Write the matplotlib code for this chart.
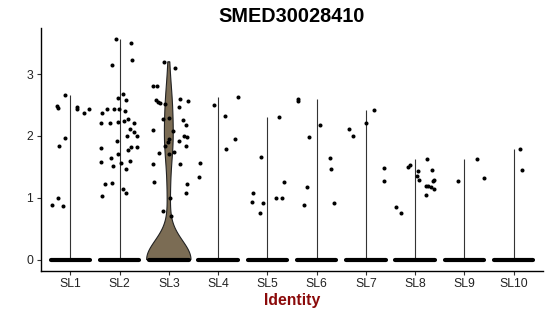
import numpy as np
import matplotlib
matplotlib.use("Agg")
import matplotlib.pyplot as plt

plt.rcParams['font.family'] = ['Liberation Sans', 'DejaVu Sans']

title = "SMED30028410"
xlabel = "Identity"
categories = ["SL1", "SL2", "SL3", "SL4", "SL5", "SL6", "SL7", "SL8", "SL9", "SL10"]
y_ticks = [0, 1, 2, 3]

# Non-zero expression values per cluster (all other cells are 0)
sl1_vals = [2.482, 2.457, 2.668, 2.470, 2.428, 2.373, 2.438, 1.964, 1.834, 0.992, 0.884, 0.863]
sl1_jit = [-0.268, -0.258, -0.116, 0.128, 0.128, 0.276, 0.381, -0.116, -0.237, -0.252, -0.373, -0.142]

sl2_vals = [3.562, 3.510, 3.226, 3.154, 2.673, 2.606, 2.587, 2.368, 2.438, 2.428, 2.430, 2.406,
            2.207, 2.203, 2.220, 2.244, 2.268, 2.215, 2.114, 2.066, 2.007, 1.996, 1.918, 1.805,
            1.823, 1.823, 1.769, 1.705, 1.640, 1.580, 1.564, 1.595, 1.510, 1.473, 1.222, 1.247,
            1.135, 1.077, 1.030]
sl2_jit = [-0.067, 0.223, 0.258, -0.148, 0.071, -0.041, 0.122, -0.365, -0.249, -0.116, -0.004, 0.108,
           -0.375, -0.203, -0.030, 0.087, 0.168, 0.294, 0.213, 0.284, 0.351, 0.156, -0.051, -0.385,
           0.223, 0.345, 0.168, -0.034, -0.168, -0.385, 0.020, 0.217, -0.128, 0.136, -0.290, -0.162,
           0.061, 0.136, -0.351]

sl3_vals = [3.199, 3.092, 2.810, 2.801, 2.579, 2.551, 2.535, 2.514, 2.600, 2.563, 2.470, 2.276,
            2.288, 2.255, 2.174, 2.093, 2.082, 2.007, 1.975, 1.943, 1.910, 1.920, 1.834, 1.839,
            1.721, 1.748, 1.705, 1.554, 1.543, 1.251, 1.230, 1.078, 0.997, 0.793, 0.701]
sl3_jit = [-0.093, 0.130, -0.331, -0.235, -0.256, -0.219, -0.178, -0.087, 0.217, 0.389, 0.197, -0.114,
           0.004, 0.292, 0.345, -0.316, 0.089, 0.304, 0.359, -0.006, -0.026, 0.197, -0.073, 0.345,
           -0.195, 0.110, -0.006, -0.331, 0.223, -0.296, 0.365, 0.339, 0.034, -0.114, 0.041]
sl3_zero_count = 80

sl4_vals = [2.498, 2.627, 2.315, 1.943, 1.797, 1.564, 1.337]
sl4_jit = [-0.079, 0.394, 0.136, 0.353, 0.156, -0.363, -0.391]

sl5_vals = [2.309, 1.656, 1.256, 1.085, 0.992, 0.992, 0.939, 0.916, 0.754]
sl5_jit = [0.231, -0.134, 0.341, -0.296, 0.178, 0.292, -0.302, -0.093, -0.140]

sl6_vals = [2.603, 2.571, 2.169, 1.980, 1.640, 1.473, 1.175, 0.916, 0.890]
sl6_jit = [-0.369, -0.369, 0.071, -0.152, 0.274, 0.286, -0.193, 0.355, -0.262]

sl7_vals = [2.422, 2.202, 2.109, 2.001, 1.489, 1.268]
sl7_jit = [0.174, 0.006, -0.339, -0.264, 0.357, 0.377]

sl8_vals = [0.852, 0.761, 1.506, 1.531, 1.635, 1.441, 1.451, 1.353, 1.284, 1.295, 1.268, 1.187,
            1.187, 1.170, 1.138, 1.046]
sl8_jit = [-0.389, -0.294, -0.138, -0.112, 0.233, 0.061, 0.349, 0.041, 0.081, 0.381, 0.369, 0.217,
           0.260, 0.314, 0.385, 0.227]

sl9_vals = [1.632, 1.324, 1.268]
sl9_jit = [0.262, 0.389, -0.124]

sl10_vals = [1.797, 1.457]
sl10_jit = [0.124, 0.162]

all_vals = [sl1_vals, sl2_vals, sl3_vals, sl4_vals, sl5_vals, sl6_vals, sl7_vals, sl8_vals, sl9_vals, sl10_vals]
all_jit = [sl1_jit, sl2_jit, sl3_jit, sl4_jit, sl5_jit, sl6_jit, sl7_jit, sl8_jit, sl9_jit, sl10_jit]

violin_color = "#7b6c54"
point_color = "black"
label_color = "#8b0a0a"

W, H = 550, 316
fig = plt.figure(figsize=(W / 100, H / 100), dpi=100)
ax = fig.add_axes([40.7 / W, 1 - 270.7 / H, 502.6 / W, 242.4 / H])

positions = np.arange(1, len(categories) + 1)
jitter_width = 0.4

for i, (vals, jit) in enumerate(zip(all_vals, all_jit)):
    pos = positions[i]
    vmax = max(vals)
    if i == 2:
        data = np.concatenate([np.zeros(sl3_zero_count), np.array(vals)])
        bw = 0.31
        grid = np.linspace(0, vmax, 400)
        dens = np.exp(-0.5 * ((grid[:, None] - data[None, :]) / bw) ** 2).sum(axis=1)
        hw = 0.45 * dens / dens.max()
        xs = np.concatenate([pos - hw, (pos + hw)[::-1]])
        ys = np.concatenate([grid, grid[::-1]])
        ax.fill(xs, ys, facecolor=violin_color, edgecolor="#222222", linewidth=0.8, zorder=2)
    else:
        ax.vlines(pos, 0, vmax, color="#333333", linewidth=0.8, zorder=2)
    # band of zero-valued cells
    ax.plot([pos - jitter_width, pos + jitter_width], [0, 0], color=point_color,
            linewidth=3.0, solid_capstyle="round", zorder=3)
    ax.scatter(pos + np.array(jit), vals, s=8.5, color=point_color, linewidths=0, zorder=4)

ax.set_xlim(0.4, 10.6)
ax.set_ylim(-0.178, 3.740)
ax.set_xticks(positions)
ax.set_xticklabels(categories)
ax.set_yticks(y_ticks)
ax.set_yticklabels([str(t) for t in y_ticks])

for side in ["top", "right"]:
    ax.spines[side].set_visible(False)
for side in ["left", "bottom"]:
    ax.spines[side].set_linewidth(1.0)
    ax.spines[side].set_color("black")

ax.tick_params(axis="both", length=2.7, width=0.8, color="#333333", labelsize=8.8,
               labelcolor="#222222")
ax.tick_params(axis="x", pad=2.4)
ax.tick_params(axis="y", pad=2.6)

ax.set_title(title, fontsize=14.3, fontweight="bold", pad=4.8)
fig.text(292 / W, 11.5 / H, xlabel, ha="center", va="baseline", fontsize=11.3,
         fontweight="bold", color=label_color)

fig.savefig("out.png", dpi=100)
